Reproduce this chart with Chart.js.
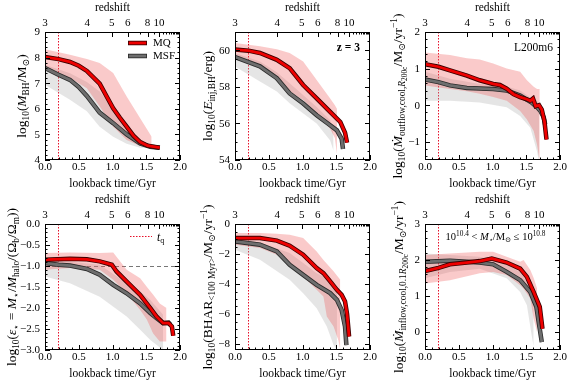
<!DOCTYPE html>
<html>
<head>
<meta charset="utf-8">
<script src="https://cdn.jsdelivr.net/npm/chart.js@4.4.0/dist/chart.umd.min.js"></script>
<style>
html, body { margin: 0; padding: 0; background: #fff; }
#wrap { position: relative; width: 571px; height: 386px; }
#wrap div { position: absolute; }
</style>
</head>
<body>
<div id="wrap"></div>
<script>
const SERIF = "'Liberation Serif', 'Times New Roman', 'DejaVu Serif', serif";

// shared axes: lookback time (bottom) and redshift (top)
const xTicks = [0, 0.5, 1.0, 1.5, 2.0];
const zLabels = ['3', '4', '5', '6', '8', '10'];
const zTickT = [0, 0.625, 0.99, 1.225, 1.52, 1.69];
const zMinorT = [1.40, 1.615, 1.75, 1.795, 1.835, 1.865, 1.895, 1.915, 1.935, 1.955, 1.97, 1.985];
const tq = 0.19;

// panel 1: BH mass  ([t, y] and bands [t, lo, hi])
const bhTicks = [4, 5, 6, 7, 8, 9];
const bhMQ = [[0,8.02],[0.2,7.94],[0.37,7.83],[0.5,7.68],[0.62,7.48],[0.81,6.98],[0.92,6.45],[1.01,6.02],[1.11,5.65],[1.21,5.3],[1.31,4.95],[1.41,4.7],[1.52,4.56],[1.70,4.48]];
const bhMSF = [[0,7.59],[0.2,7.33],[0.37,7.13],[0.5,6.85],[0.62,6.5],[0.81,5.85],[1.01,5.44],[1.21,5.0],[1.41,4.65],[1.56,4.52],[1.70,4.48]];
const bhMQBand = [[0,7.52,8.33],[0.37,7.2,8.11],[0.62,6.8,7.95],[0.81,6.09,7.79],[1.01,5.3,7.4],[1.21,4.78,6.48],[1.41,4.55,5.63],[1.58,4.46,4.91]];
const bhMSFBand = [[0,6.94,7.72],[0.37,6.35,7.39],[0.62,5.9,7.05],[0.81,5.3,6.68],[1.01,4.91,6.05],[1.21,4.63,5.37],[1.41,4.48,4.75],[1.56,4.46,4.56]];

// panel 2: injected BH energy
const eTicks = [54, 56, 58, 60];
const eMQ = [[0,60.04],[0.2,59.98],[0.37,59.85],[0.62,59.48],[0.81,59.02],[1.01,58.1],[1.21,57.37],[1.41,56.63],[1.56,56.08],[1.63,55.5],[1.66,54.95]];
const eMSF = [[0,59.63],[0.37,59.12],[0.62,58.47],[0.81,57.64],[1.01,57.09],[1.21,56.45],[1.41,55.9],[1.51,55.62],[1.58,55.16],[1.60,54.6]];
const eMQBand = [[0,59.58,60.4],[0.37,59.12,60.22],[0.62,58.47,60.05],[0.81,57.74,59.85],[1.01,57.28,59.39],[1.21,56.54,58.38],[1.41,55.71,57.37],[1.48,55.2,57.0],[1.51,54.33,56.8]];
const eMSFBand = [[0,59.12,59.85],[0.37,58.29,59.39],[0.62,57.74,58.8],[0.81,57.1,58.2],[1.21,55.99,56.9],[1.41,55.07,56.17],[1.46,54.5,55.44]];

// panel 3: cool outflow rate at R200c
const outTicks = [-1, 0, 1, 2];
const outMQ = [[0,1.12],[0.2,1.05],[0.37,0.95],[0.62,0.81],[0.81,0.68],[1.01,0.58],[1.11,0.55],[1.21,0.45],[1.31,0.3],[1.41,0.22],[1.51,0.16],[1.56,0.12],[1.60,0.18],[1.64,-0.03],[1.69,0.0],[1.73,-0.12],[1.77,-0.45],[1.80,-0.94]];
const outMSF = [[0,0.7],[0.2,0.63],[0.37,0.54],[0.62,0.47],[1.01,0.44],[1.21,0.4],[1.41,0.26],[1.58,0.07],[1.66,-0.06],[1.71,-0.16],[1.76,-0.34],[1.78,-0.53]];
const outMQBand = [[0,0.54,1.44],[0.37,0.44,1.37],[0.62,0.38,1.28],[0.81,0.31,1.25],[1.01,0.22,1.14],[1.21,0.12,1.0],[1.41,-0.16,0.91],[1.51,-0.39,0.68],[1.61,-0.71,0.5],[1.66,-1.08,0.44],[1.70,-1.55,0.44]];
const outMSFBand = [[0,0.12,0.91],[0.37,0.12,0.72],[0.81,0.07,0.58],[1.21,-0.06,0.51],[1.41,-0.3,0.4],[1.56,-0.62,0.21],[1.66,-1.27,0.12],[1.69,-1.55,0.0]];

// panel 4: star formation efficiency
const epsTicks = [-3, -2.5, -2, -1.5, -1, -0.5, 0];
const epsMQ = [[0,-0.85],[0.37,-0.83],[0.62,-0.84],[0.81,-0.89],[0.99,-0.97],[1.06,-1.13],[1.21,-1.37],[1.41,-1.69],[1.56,-2.0],[1.65,-2.2],[1.75,-2.36],[1.83,-2.36],[1.88,-2.44],[1.90,-2.66]];
const epsMSF = [[0,-0.93],[0.2,-0.97],[0.37,-0.99],[0.62,-1.07],[0.81,-1.21],[1.01,-1.45],[1.21,-1.65],[1.41,-1.89],[1.56,-2.12],[1.65,-2.24],[1.75,-2.36],[1.83,-2.35],[1.86,-2.4]];
const epsMQBand = [[0,-1.09,-0.69],[0.37,-1.05,-0.68],[0.81,-1.09,-0.69],[1.01,-1.33,-0.68],[1.21,-1.65,-1.09],[1.41,-2.05,-1.29],[1.51,-2.28,-1.5],[1.60,-2.6,-1.68],[1.70,-2.8,-1.89],[1.80,-2.8,-2.0]];
const epsMSFBand = [[0,-1.25,-0.85],[0.37,-1.41,-0.9],[0.81,-1.73,-0.97],[1.21,-2.2,-1.41],[1.41,-2.52,-1.6],[1.56,-2.76,-1.81],[1.75,-3.0,-2.16]];

// panel 5: BH accretion rate
const bharTicks = [-8, -6, -4, -2, 0];
const bharMQ = [[0,-0.94],[0.37,-0.94],[0.62,-1.11],[0.81,-1.45],[1.01,-2.05],[1.21,-2.94],[1.31,-3.28],[1.41,-3.83],[1.51,-4.39],[1.58,-4.72],[1.63,-5.17],[1.66,-6.0],[1.69,-7.5]];
const bharMSF = [[0,-1.16],[0.37,-1.38],[0.62,-1.83],[0.81,-2.72],[1.01,-3.39],[1.21,-4.06],[1.41,-4.61],[1.51,-5.06],[1.58,-5.73],[1.63,-6.84],[1.65,-8.07]];
const bharMQBand = [[0,-1.38,-0.6],[0.37,-1.6,-0.6],[0.62,-2.05,-0.65],[0.81,-2.61,-0.71],[1.01,-3.5,-0.94],[1.21,-4.39,-1.83],[1.31,-4.84,-2.4],[1.36,-6.17,-2.65],[1.46,-6.84,-3.15],[1.53,-7.73,-3.55],[1.56,-8.4,-3.72]];
const bharMSFBand = [[0,-1.72,-0.94],[0.37,-2.38,-1.23],[0.81,-3.72,-1.94],[1.01,-4.61,-2.6],[1.21,-5.62,-3.28],[1.36,-6.84,-3.6],[1.46,-8.07,-3.83],[1.51,-8.4,-4.39]];

// panel 6: cool inflow rate at 0.1 R200c
const inTicks = [0, 1, 2, 3];
const inMQ = [[0,1.69],[0.2,1.78],[0.37,1.88],[0.62,1.93],[0.81,1.97],[0.99,2.04],[1.21,1.93],[1.41,1.76],[1.51,1.53],[1.61,1.11],[1.65,0.93],[1.70,0.70],[1.74,0.09]];
const inMSF = [[0,1.95],[0.37,1.98],[0.62,1.95],[0.81,1.93],[1.01,1.88],[1.21,1.67],[1.41,1.44],[1.56,1.11],[1.65,0.70],[1.73,-0.28]];
const inMQBand = [[0,1.35,2.14],[0.37,1.44,2.18],[0.81,1.63,2.23],[1.01,1.67,2.23],[1.21,1.58,2.09],[1.41,1.3,1.95],[1.46,1.2,2.0],[1.56,0.93,1.72],[1.61,0.37,1.5],[1.66,0.0,1.21]];
const inMSFBand = [[0,1.49,2.18],[0.37,1.67,2.14],[0.81,1.76,2.09],[1.21,1.49,1.86],[1.41,1.11,1.67],[1.51,0.74,1.39],[1.58,-0.09,1.2],[1.61,-0.4,1.02]];

const T = (t, o) => Object.assign({ t: t }, o || {});

const panels = [
  { mq: bhMQ, msf: bhMSF, mqBand: bhMQBand, msfBand: bhMSFBand, yMin: 4, yMax: 9, yTicks: bhTicks, yMinor: 0.2, dec: 0, titleX: 26, legend: 'lines',
    title: [T('log'), T('10', {lv: 1}), T('('), T('M', {it: 1}), T('BH', {lv: 1}), T('/M'), T('⊙', {lv: 1}), T(')')] },
  { mq: eMQ, msf: eMSF, mqBand: eMQBand, msfBand: eMSFBand, yMin: 54, yMax: 61, yTicks: eTicks, yMinor: 0.5, dec: 0, titleX: 22, note: 'z = 3',
    title: [T('log'), T('10', {lv: 1}), T('('), T('E', {it: 1}), T('inj,BH', {lv: 1}), T('/erg)')] },
  { mq: outMQ, msf: outMSF, mqBand: outMQBand, msfBand: outMSFBand, yMin: -1.5, yMax: 2, yTicks: outTicks, yMinor: 0.2, dec: 0, titleX: 22, note: 'L200m6',
    title: [T('log'), T('10', {lv: 1}), T('('), T('Ṁ', {it: 1}), T('outflow,cool,', {lv: 1}), T('R', {lv: 1, it: 1}), T('200c', {lv: 2}), T('/M'), T('⊙', {lv: 1}), T('/yr'), T('−1', {lv: -1}), T(')')] },
  { mq: epsMQ, msf: epsMSF, mqBand: epsMQBand, msfBand: epsMSFBand, yMin: -3, yMax: 0, yTicks: epsTicks, yMinor: 0.1, dec: 1, titleX: 16, legend: 'tq', hline: -1,
    title: [T('log'), T('10', {lv: 1}), T('('), T('ε', {it: 1}), T('⋆', {lv: 1}), T(' = '), T('M', {it: 1}), T('⋆', {lv: 1}), T('/'), T('M', {it: 1}), T('halo', {lv: 1}), T('/(Ω'), T('b', {lv: 1}), T('/Ω'), T('m', {lv: 1}), T('))')] },
  { mq: bharMQ, msf: bharMSF, mqBand: bharMQBand, msfBand: bharMSFBand, yMin: -8.4, yMax: 0, yTicks: bharTicks, yMinor: 0.5, dec: 0, titleX: 22,
    title: [T('log'), T('10', {lv: 1}), T('(BHAR'), T('<100 Myr>', {lv: 1}), T('/M'), T('⊙', {lv: 1}), T('/yr'), T('−1', {lv: -1}), T(')')] },
  { mq: inMQ, msf: inMSF, mqBand: inMQBand, msfBand: inMSFBand, yMin: -0.5, yMax: 3, yTicks: inTicks, yMinor: 0.2, dec: 0, titleX: 23, legend: 'mass',
    title: [T('log'), T('10', {lv: 1}), T('('), T('Ṁ', {it: 1}), T('inflow,cool,0.1', {lv: 1}), T('R', {lv: 1, it: 1}), T('200c', {lv: 2}), T('/M'), T('⊙', {lv: 1}), T('/yr'), T('−1', {lv: -1}), T(')')] }
];

// ---- rich text helpers (sub/superscripts) ----
function segFont(s, size) {
  const lv = s.lv || 0;
  const f = lv === 0 ? 1 : (lv === 2 ? 0.55 : 0.7);
  return (s.it ? 'italic ' : '') + (s.b ? 'bold ' : '') + (size * f).toFixed(1) + 'px ' + SERIF;
}
function segDy(s, size) {
  const lv = s.lv || 0;
  if (lv === 1) return 0.22 * size;
  if (lv === 2) return 0.38 * size;
  if (lv === -1) return -0.38 * size;
  return 0;
}
function drawRich(ctx, segs, x, y, size, align) {
  let w = 0;
  segs.forEach(s => { ctx.font = segFont(s, size); w += ctx.measureText(s.t).width; });
  let cx = align === 'center' ? x - w / 2 : (align === 'right' ? x - w : x);
  ctx.textAlign = 'left';
  ctx.textBaseline = 'alphabetic';
  segs.forEach(s => {
    ctx.font = segFont(s, size);
    ctx.fillText(s.t, cx, y + segDy(s, size));
    cx += ctx.measureText(s.t).width;
  });
}

function minorList(min, max, step) {
  const out = [];
  const n0 = Math.ceil(min / step - 1e-6), n1 = Math.floor(max / step + 1e-6);
  for (let n = n0; n <= n1; n++) out.push(+(n * step).toFixed(4));
  return out;
}

const fmt = (v, dec) => v.toFixed(dec).replace('-', '\u2212');
const TICK_FONT = '11px ' + SERIF;

const decor = {
  id: 'decor',
  beforeDatasetsDraw(chart, args, o) {
    const { ctx, chartArea: a, scales: { x, y } } = chart;
    ctx.save();
    ctx.beginPath();
    ctx.rect(a.left, a.top, a.width, a.height);
    ctx.clip();
    if (o.hline !== undefined) {
      const py = Math.round(y.getPixelForValue(o.hline)) + 0.5;
      ctx.strokeStyle = '#777';
      ctx.lineWidth = 1;
      ctx.setLineDash([4, 3]);
      ctx.beginPath(); ctx.moveTo(a.left, py); ctx.lineTo(a.right, py); ctx.stroke();
    }
    const px = Math.round(x.getPixelForValue(tq)) + 0.5;
    ctx.strokeStyle = '#e8102a';
    ctx.lineWidth = 1;
    ctx.setLineDash([1.5, 1.5]);
    ctx.beginPath(); ctx.moveTo(px, a.top); ctx.lineTo(px, a.bottom); ctx.stroke();
    ctx.restore();
  },
  afterDraw(chart, args, o) {
    const { ctx, chartArea: a, scales: { x, y } } = chart;
    ctx.save();
    ctx.strokeStyle = '#000';
    ctx.lineWidth = 1;
    ctx.strokeRect(a.left + 0.5, a.top + 0.5, a.width - 1, a.height - 1);

    // inward ticks
    ctx.beginPath();
    const vt = (v, len) => {
      const px = Math.round(x.getPixelForValue(v)) + 0.5;
      ctx.moveTo(px, a.bottom); ctx.lineTo(px, a.bottom - len);
    };
    const topT = (v, len) => {
      const px = Math.round(x.getPixelForValue(v)) + 0.5;
      ctx.moveTo(px, a.top); ctx.lineTo(px, a.top + len);
    };
    const ht = (v, len) => {
      const py = Math.round(y.getPixelForValue(v)) + 0.5;
      ctx.moveTo(a.left, py); ctx.lineTo(a.left + len, py);
      ctx.moveTo(a.right, py); ctx.lineTo(a.right - len, py);
    };
    xTicks.forEach(v => vt(v, 5));
    minorList(0, 2, 0.1).forEach(v => vt(v, 2.5));
    zTickT.forEach(v => topT(v, 5));
    zMinorT.forEach(v => topT(v, 2.5));
    o.yTicks.forEach(v => ht(v, 5));
    minorList(o.yMin, o.yMax, o.yMinor).forEach(v => ht(v, 2.5));
    ctx.stroke();

    // tick labels, placed from the chart's scales
    ctx.fillStyle = '#000';
    ctx.font = TICK_FONT;
    ctx.textAlign = 'center';
    ctx.textBaseline = 'top';
    xTicks.forEach(v => ctx.fillText(v.toFixed(1), x.getPixelForValue(v), a.bottom + 2));
    ctx.textBaseline = 'alphabetic';
    zTickT.forEach((v, k) => ctx.fillText(zLabels[k], x.getPixelForValue(v), a.top - 6));
    ctx.textAlign = 'right';
    ctx.textBaseline = 'middle';
    o.yTicks.forEach(v => ctx.fillText(fmt(v, o.dec), a.left - 5, y.getPixelForValue(v) + 0.5));

    // axis titles
    ctx.font = '11.5px ' + SERIF;
    ctx.textAlign = 'center';
    ctx.textBaseline = 'middle';
    const cxm = (a.left + a.right) / 2;
    ctx.fillText('lookback time/Gyr', cxm, a.bottom + 23.5);
    ctx.fillText('redshift', cxm, a.top - 24);

    ctx.save();
    ctx.translate(o.titleX, (a.top + a.bottom) / 2);
    ctx.rotate(-Math.PI / 2);
    drawRich(ctx, o.title, 0, 0, 13.5, 'center');
    ctx.restore();

    // legends and notes
    if (o.legend === 'lines') {
      const x0 = a.left + 83, x1 = a.left + 102;
      [[a.top + 11, '#3a0000', '#ee0000', 'MQ'], [a.top + 24, '#2b2b2b', '#6e6e6e', 'MSF']].forEach(r => {
        ctx.lineCap = 'butt';
        ctx.strokeStyle = r[1]; ctx.lineWidth = 4.5;
        ctx.beginPath(); ctx.moveTo(x0, r[0]); ctx.lineTo(x1, r[0]); ctx.stroke();
        ctx.strokeStyle = r[2]; ctx.lineWidth = 2.8;
        ctx.beginPath(); ctx.moveTo(x0 + 0.8, r[0]); ctx.lineTo(x1 - 0.8, r[0]); ctx.stroke();
        ctx.font = '11px ' + SERIF;
        ctx.textAlign = 'left';
        ctx.textBaseline = 'middle';
        ctx.fillText(r[3], x1 + 6, r[0] + 0.5);
      });
    }
    if (o.legend === 'tq') {
      const ly = a.top + 12.5;
      ctx.strokeStyle = '#e8102a'; ctx.lineWidth = 1.2;
      ctx.setLineDash([1.5, 1.5]);
      ctx.beginPath(); ctx.moveTo(a.left + 85, ly); ctx.lineTo(a.left + 107, ly); ctx.stroke();
      ctx.setLineDash([]);
      drawRich(ctx, [T('t', {it: 1}), T('q', {lv: 1})], a.left + 112, ly + 4, 11.5, 'left');
    }
    if (o.legend === 'mass') {
      drawRich(ctx, [T('10'), T('10.4', {lv: -1}), T(' < '), T('M', {it: 1}), T('⋆', {lv: 1}), T('/M'), T('⊙', {lv: 1}), T(' ≤ 10'), T('10.8', {lv: -1})],
        cxm + 3, a.top + 16, 10.5, 'center');
    }
    if (o.note) {
      ctx.font = (o.note === 'z = 3' ? 'bold ' : '') + '11.5px ' + SERIF;
      ctx.textAlign = 'right';
      ctx.textBaseline = 'alphabetic';
      ctx.fillText(o.note, a.right - (o.note === 'z = 3' ? 10 : 7), a.top + 19);
    }
    ctx.restore();
  }
};

const pts = arr => arr.map(p => ({ x: p[0], y: p[1] }));
const bandPts = (arr, k) => arr.map(p => ({ x: p[0], y: p[k] }));

const wrap = document.getElementById('wrap');
panels.forEach((p, i) => {
  const col = i % 3, row = Math.floor(i / 3);
  const W = col === 2 ? 191 : 190, H = 193;
  const topH = row === 0 ? 32 : 31;
  const bottomH = row === 0 ? 33 : 36;
  const div = document.createElement('div');
  div.style.left = (col * 190) + 'px';
  div.style.top = (row * 193) + 'px';
  div.style.width = W + 'px';
  div.style.height = H + 'px';
  const cv = document.createElement('canvas');
  cv.width = W; cv.height = H;
  div.appendChild(cv);
  wrap.appendChild(div);

  const noPad = s => { s.paddingLeft = 0; s.paddingRight = 0; s.paddingTop = 0; s.paddingBottom = 0; };

  new Chart(cv, {
    type: 'line',
    data: {
      datasets: [
        { data: bandPts(p.msfBand, 1), borderWidth: 0, fill: false, order: 9 },
        { data: bandPts(p.msfBand, 2), borderWidth: 0, fill: '-1', backgroundColor: 'rgba(170,170,170,0.3)', order: 8 },
        { data: bandPts(p.mqBand, 1), borderWidth: 0, fill: false, order: 7 },
        { data: bandPts(p.mqBand, 2), borderWidth: 0, fill: '-1', backgroundColor: 'rgba(240,80,80,0.3)', order: 6 },
        { data: pts(p.msf), borderColor: '#2b2b2b', borderWidth: 4.5, fill: false, order: 4 },
        { data: pts(p.msf), borderColor: '#6e6e6e', borderWidth: 2.8, fill: false, order: 3 },
        { data: pts(p.mq), borderColor: '#3a0000', borderWidth: 4.5, fill: false, order: 2 },
        { data: pts(p.mq), borderColor: '#ee0000', borderWidth: 2.8, fill: false, order: 1 }
      ]
    },
    options: {
      responsive: false,
      animation: false,
      devicePixelRatio: 1,
      events: [],
      layout: { padding: { left: 0, top: topH, bottom: 0, right: W - 180 } },
      elements: { point: { radius: 0 }, line: { tension: 0 } },
      plugins: {
        legend: { display: false },
        tooltip: { enabled: false },
        decor: Object.assign({}, p)
      },
      scales: {
        x: {
          type: 'linear', position: 'bottom', min: 0, max: 2, display: true,
          grid: { display: false }, border: { display: false },
          afterFit: s => { s.height = bottomH; noPad(s); },
          ticks: { display: false }
        },
        y: {
          type: 'linear', min: p.yMin, max: p.yMax, display: true,
          grid: { display: false }, border: { display: false },
          afterFit: s => { s.width = 45; noPad(s); },
          ticks: { display: false }
        }
      }
    },
    plugins: [decor]
  });
});
</script>
</body>
</html>
